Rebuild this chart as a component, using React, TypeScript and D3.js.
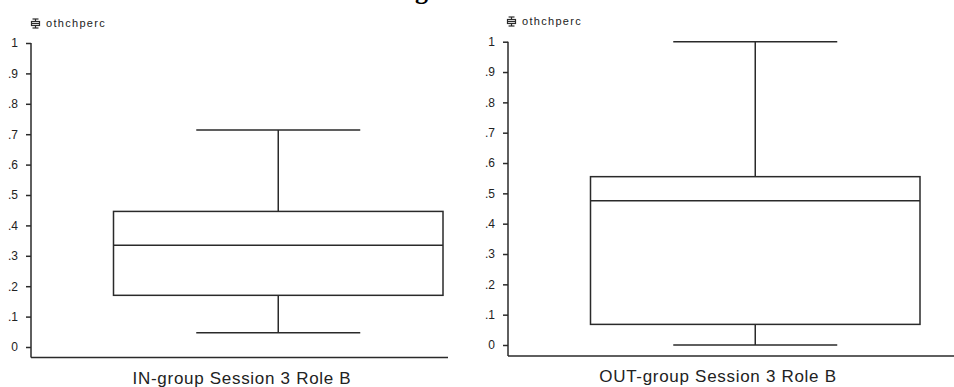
import React, { useEffect, useRef } from 'react';
import * as d3 from 'd3';

// values
const groups = ['IN-group Session 3 Role B', 'OUT-group Session 3 Role B'];
const lowWhisker = [0.047, 0.0];
const q1 = [0.17, 0.068];
const median = [0.335, 0.476];
const q3 = [0.446, 0.555];
const highWhisker = [0.714, 1.0];
const tickValues = [0, 0.1, 0.2, 0.3, 0.4, 0.5, 0.6, 0.7, 0.8, 0.9, 1];
const tickLabels = ['0', '.1', '.2', '.3', '.4', '.5', '.6', '.7', '.8', '.9', '1'];
const varName = 'othchperc';

// panel layout
const panels = [
  { axisX: 31, axisEnd: 448, yTop: 43, yZero: 347, baseY: 357.5, boxL: 113.5, boxR: 443, capHalf: 82, labelX: 242, labelY: 384, iconX: 31, iconY: 18 },
  { axisX: 508, axisEnd: 954, yTop: 41.7, yZero: 345, baseY: 356, boxL: 590.5, boxR: 920, capHalf: 82, labelX: 718, labelY: 382, iconX: 507, iconY: 16 },
];

const INK = '#2a2a2a';

export default function App() {
  const svgRef = useRef<SVGSVGElement>(null);

  useEffect(() => {
    const svg = d3.select(svgRef.current);
    svg.selectAll('*').remove();

    svg.append('rect').attr('width', 954).attr('height', 387).attr('fill', '#fff');

    // title, cut off at the top of the picture (only a descender shows)
    svg.append('text')
      .attr('x', 392)
      .attr('y', -1.5)
      .attr('font-family', '"Liberation Serif", serif')
      .attr('font-weight', 'bold')
      .attr('font-size', 26)
      .attr('fill', '#000')
      .text('Figure');

    panels.forEach((p, i) => {
      const g = svg.append('g');
      const y = d3.scaleLinear().domain([0, 1]).range([p.yZero, p.yTop]);

      // y axis
      const axis = d3.axisLeft(y)
        .tickValues(tickValues)
        .tickFormat((d, k) => tickLabels[k])
        .tickSizeInner(5)
        .tickSizeOuter(0)
        .tickPadding(8);
      const ax = g.append('g').attr('transform', `translate(${p.axisX},0)`).call(axis);
      ax.select('.domain').remove();
      ax.selectAll('line').attr('stroke', INK).attr('stroke-width', 1.5);
      ax.selectAll('text')
        .attr('font-family', '"Liberation Sans", Arial, sans-serif')
        .attr('font-size', 12)
        .attr('fill', '#222');

      g.append('line')
        .attr('x1', p.axisX).attr('x2', p.axisX)
        .attr('y1', p.yTop).attr('y2', p.baseY)
        .attr('stroke', INK).attr('stroke-width', 1.5);
      g.append('line')
        .attr('x1', p.axisX).attr('x2', p.axisEnd)
        .attr('y1', p.baseY).attr('y2', p.baseY)
        .attr('stroke', INK).attr('stroke-width', 1.5);

      // variable label with boxplot icon
      const ix = p.iconX, iy = p.iconY;
      const icon = g.append('g').attr('stroke', INK).attr('stroke-width', 1.2).attr('fill', 'none');
      icon.append('line').attr('x1', ix + 1.5).attr('x2', ix + 7.5).attr('y1', iy + 1).attr('y2', iy + 1);
      icon.append('line').attr('x1', ix + 4.5).attr('x2', ix + 4.5).attr('y1', iy + 1).attr('y2', iy + 10);
      icon.append('rect').attr('x', ix + 0.5).attr('y', iy + 3.5).attr('width', 8).attr('height', 4).attr('fill', '#fff');
      icon.append('line').attr('x1', ix + 0.5).attr('x2', ix + 8.5).attr('y1', iy + 5.5).attr('y2', iy + 5.5);
      icon.append('line').attr('x1', ix + 1.5).attr('x2', ix + 7.5).attr('y1', iy + 10).attr('y2', iy + 10);
      g.append('text')
        .attr('x', ix + 15)
        .attr('y', iy + 9)
        .attr('font-family', '"Liberation Sans", Arial, sans-serif')
        .attr('font-size', 11)
        .attr('letter-spacing', 1.3)
        .attr('fill', '#222')
        .text(varName);

      // box plot
      const cx = (p.boxL + p.boxR) / 2;
      const bx = g.append('g').attr('stroke', INK).attr('stroke-width', 1.5).attr('fill', 'none');
      bx.append('line').attr('x1', cx).attr('x2', cx).attr('y1', y(highWhisker[i])).attr('y2', y(q3[i]));
      bx.append('line').attr('x1', cx).attr('x2', cx).attr('y1', y(q1[i])).attr('y2', y(lowWhisker[i]));
      bx.append('line').attr('x1', cx - p.capHalf).attr('x2', cx + p.capHalf).attr('y1', y(highWhisker[i])).attr('y2', y(highWhisker[i]));
      bx.append('line').attr('x1', cx - p.capHalf).attr('x2', cx + p.capHalf).attr('y1', y(lowWhisker[i])).attr('y2', y(lowWhisker[i]));
      bx.append('rect')
        .attr('x', p.boxL).attr('width', p.boxR - p.boxL)
        .attr('y', y(q3[i])).attr('height', y(q1[i]) - y(q3[i]));
      bx.append('line').attr('x1', p.boxL).attr('x2', p.boxR).attr('y1', y(median[i])).attr('y2', y(median[i]));

      // group label
      g.append('text')
        .attr('x', p.labelX)
        .attr('y', p.labelY)
        .attr('text-anchor', 'middle')
        .attr('font-family', '"Liberation Sans", Arial, sans-serif')
        .attr('font-size', 17)
        .attr('letter-spacing', 0.7)
        .attr('fill', '#222')
        .text(groups[i]);
    });
  }, []);

  return (
    <svg
      ref={svgRef}
      width={954}
      height={387}
      style={{ position: 'absolute', left: 0, top: 0, display: 'block' }}
    />
  );
}
